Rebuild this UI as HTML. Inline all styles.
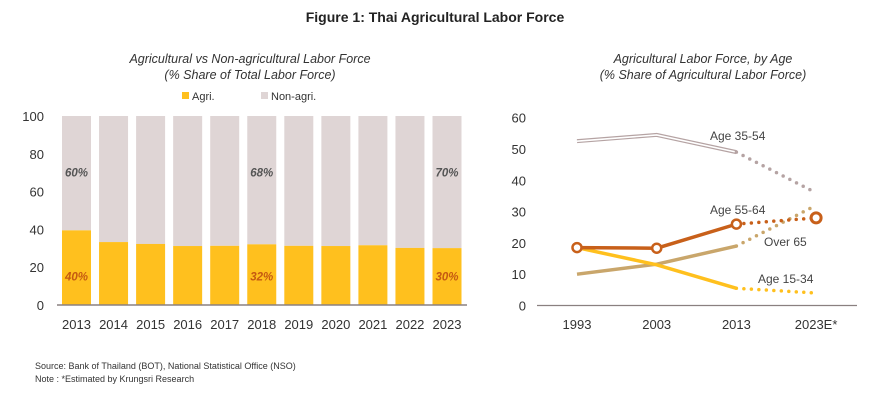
<!DOCTYPE html>
<html><head><meta charset="utf-8"><style>
body{margin:0;width:870px;height:400px;background:#fff;font-family:"Liberation Sans",sans-serif;overflow:hidden}
svg{display:block}
</style></head><body>
<svg id="c" width="870" height="400" xmlns="http://www.w3.org/2000/svg">
<text x="435" y="22" text-anchor="middle" font-size="14" font-weight="bold" fill="#222">Figure 1: Thai Agricultural Labor Force</text>
<text x="250" y="63" text-anchor="middle" font-size="12.5" font-style="italic" fill="#333">Agricultural vs Non-agricultural Labor Force</text>
<text x="250" y="79" text-anchor="middle" font-size="12.5" font-style="italic" fill="#333">(% Share of Total Labor Force)</text>
<text x="703" y="63" text-anchor="middle" font-size="12.5" font-style="italic" fill="#333">Agricultural Labor Force, by Age</text>
<text x="703" y="79" text-anchor="middle" font-size="12.5" font-style="italic" fill="#333">(% Share of Agricultural Labor Force)</text>
<g>
<rect x="182" y="92" width="7" height="7" fill="#ffc01e"/>
<text x="192" y="100" font-size="11" fill="#333">Agri.</text>
<rect x="261" y="92" width="7" height="7" fill="#dfd5d5"/>
<text x="271" y="100" font-size="11" fill="#333">Non-agri.</text>
</g>
<g id="left"></g><g id="right"></g>
<text x="35" y="369" font-size="9" fill="#333">Source: Bank of Thailand (BOT), National Statistical Office (NSO)</text>
<text x="35" y="382" font-size="9" fill="#333">Note :  *Estimated by Krungsri Research</text>
</svg>
<script>
const years=["2013","2014","2015","2016","2017","2018","2019","2020","2021","2022","2023"];
const agri=[39.5,33.3,32.3,31.2,31.3,32.1,31.3,31.2,31.6,30.2,30.1];
const leftTicks=[0,20,40,60,80,100];
const labelIdx=[0,5,10];
const agriLabels=["40%","32%","30%"];
const nonLabels=["60%","68%","70%"];
const ageCats=["1993","2003","2013","2023E*"];
const age3554=[52.5,54.5,49,36];
const age5564=[18.5,18.3,26,28];
const over65=[10,13.2,19,32];
const age1534=[18.5,13,5.5,4];
const rightTicks=[0,10,20,30,40,50,60];
const NS="http://www.w3.org/2000/svg";
function mk(p,t,a){const e=document.createElementNS(NS,t);for(const k in a)e.setAttribute(k,a[k]);p.appendChild(e);return e;}
// left chart
const L=document.getElementById('left');
const ly=v=>305-v*1.89, lx=i=>76.5+i*37.05;
leftTicks.forEach(t=>{const e=mk(L,'text',{x:44,y:ly(t)+5,'text-anchor':'end','font-size':13,fill:'#333'});e.textContent=t;

});
years.forEach((y,i)=>{
 const x=lx(i)-14.5;
 const n=mk(L,'rect',{x:x,y:ly(100),width:29,height:ly(agri[i])-ly(100),fill:'#dfd5d5'});
 
 
 const a=mk(L,'rect',{x:x,y:ly(agri[i]),width:29,height:305-ly(agri[i]),fill:'#ffc01e'});
 
 
 const t=mk(L,'text',{x:lx(i),y:329,'text-anchor':'middle','font-size':13,fill:'#333'});t.textContent=y;
 
 
});
const ax=mk(L,'line',{x1:57,x2:467,y1:305,y2:305,stroke:'#8a8080','stroke-width':1.5});


labelIdx.forEach((i,k)=>{
 const a=mk(L,'text',{x:lx(i),y:ly(15)+4,'text-anchor':'middle','font-size':11.5,'font-style':'italic','font-weight':'bold',fill:'#c55a11'});a.textContent=agriLabels[k];
 
 
 const b=mk(L,'text',{x:lx(i),y:ly(70)+4,'text-anchor':'middle','font-size':11.5,'font-style':'italic','font-weight':'bold',fill:'#555'});b.textContent=nonLabels[k];
 
 
});
// right chart
const R=document.getElementById('right');
const ry=v=>305.5-v*3.13, rx=i=>577+i*79.7;
rightTicks.forEach(t=>{const e=mk(R,'text',{x:526,y:ry(t)+5,'text-anchor':'end','font-size':13,fill:'#333'});e.textContent=t;

});
ageCats.forEach((c,i)=>{const t=mk(R,'text',{x:rx(i),y:329,'text-anchor':'middle','font-size':13,fill:'#333'});t.textContent=c;

});
const ax2=mk(R,'line',{x1:537,x2:857,y1:305.5,y2:305.5,stroke:'#8a8080','stroke-width':1.2});


function series(vals,color,name,dbl){
 const solid=vals.slice(0,3).map((v,i)=>rx(i)+','+ry(v)).join(' ');
 if(dbl){const o=mk(R,'polyline',{points:solid,fill:'none',stroke:color,'stroke-width':4});
  const w=mk(R,'polyline',{points:solid,fill:'none',stroke:'#fff','stroke-width':1.6});}
 else{const p=mk(R,'polyline',{points:solid,fill:'none',stroke:color,'stroke-width':3.5});}
 const d=mk(R,'line',{x1:rx(2),y1:ry(vals[2]),x2:rx(3),y2:ry(vals[3]),stroke:color,'stroke-width':3.5,'stroke-dasharray':'0 7.5','stroke-linecap':'round'});
 
 
}
series(age3554,'#b5a3a3','age-35-54',true);
series(over65,'#c9a66b','over-65',false);
series(age1534,'#ffc01e','age-15-34',false);
series(age5564,'#c8601a','age-55-64',false);
[0,1,2].forEach(i=>{const c=mk(R,'circle',{cx:rx(i),cy:ry(age5564[i]),r:4.5,fill:'#fff',stroke:'#c8601a','stroke-width':2.5});

});
const c3=mk(R,'circle',{cx:rx(3),cy:ry(age5564[3]),r:5,fill:'#fff',stroke:'#c8601a','stroke-width':3});


const labs=[["Age 35-54",710,140],["Age 55-64",710,214],["Over 65",764,246],["Age 15-34",758,283]];
labs.forEach(l=>{const t=mk(R,'text',{x:l[1],y:l[2],'font-size':12,fill:'#444'});t.textContent=l[0];

});
</script>
</body></html>
